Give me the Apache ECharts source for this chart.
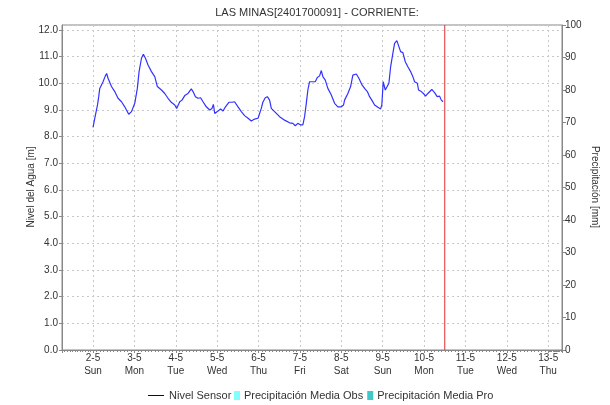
<!DOCTYPE html>
<html>
<head>
<meta charset="utf-8">
<script src="https://cdn.jsdelivr.net/npm/echarts@6/dist/echarts.min.js"></script>
<style>html,body{margin:0;padding:0;background:#fff}#c{width:610px;height:405px}</style>
</head>
<body>
<div id="c"></div>
<script>
// Hours since 2021-05-02 00:00 and water level [m]
const hours = [0,1.0,2.6,3.3,3.9,4.9,5.8,7.2,7.9,8.7,9.7,10.7,12.6,14.5,16.5,18.4,20.7,22.3,24.2,25.7,26.7,28.1,29.2,30.4,31.9,33.9,35.8,37.3,39.7,41.6,43.5,45.4,47.4,48.5,50.3,51.6,53.2,55.1,57.0,58.0,59.4,60.9,62.4,63.8,65.7,67.7,69.0,69.8,70.6,72.1,74.0,75.4,76.8,77.9,78.8,80.6,82.1,84.1,86.0,87.9,89.9,91.8,93.7,95.7,96.6,97.6,98.5,99.9,101.1,102.4,103.4,105.3,108.2,111.1,114.0,115.9,117.3,118.8,120.4,121.7,122.7,123.7,124.6,125.6,127.5,128.9,130.1,131.4,132.4,133.3,134.7,136.2,138.2,140.1,142.0,144.0,145.3,145.9,147.8,149.4,150.7,152.7,154.2,156.0,157.5,159.1,160.4,161.7,163.3,165.2,166.8,167.5,168.3,169.5,170.6,171.6,172.6,173.9,174.9,176.2,177.2,178.4,179.7,181.1,182.6,184.2,185.5,186.5,188.1,188.8,190.4,191.9,192.9,194.2,195.2,196.5,198.1,199.6,201.0,202.0,203.0];
const levels = [8.35,8.69,9.19,9.5,9.81,9.88,10.06,10.29,10.37,10.19,10.12,9.88,9.69,9.44,9.31,9.12,8.84,8.94,9.25,9.81,10.44,10.94,11.09,10.94,10.69,10.44,10.25,9.88,9.75,9.62,9.44,9.29,9.19,9.06,9.31,9.37,9.54,9.62,9.79,9.69,9.5,9.44,9.46,9.31,9.12,9.0,9.06,9.21,8.87,8.94,9.04,8.96,9.12,9.09,9.29,9.29,9.31,9.12,8.94,8.79,8.69,8.59,8.66,8.69,8.62,9.06,9.29,9.46,9.5,9.37,9.06,8.94,8.75,8.62,8.52,8.5,8.41,8.5,8.44,8.44,8.75,9.25,9.75,10.06,10.06,10.06,10.22,10.28,10.48,10.25,10.12,9.81,9.56,9.25,9.12,9.12,9.19,9.37,9.62,9.88,10.31,10.35,10.19,9.94,9.81,9.69,9.5,9.37,9.19,9.1,9.04,9.19,10.06,9.75,9.81,10.0,10.62,11.12,11.5,11.6,11.53,11.19,11.15,10.81,10.62,10.44,10.25,10.06,10.0,9.75,9.69,9.6,9.52,9.62,9.69,9.77,9.65,9.5,9.52,9.37,9.31];
const precipObs = [];
const precipPro = [];
const nowMarkerHour = 204; // hours since 2021-05-02 00:00
const dayNames = ['Sun','Mon','Tue','Wed','Thu','Fri','Sat'];
const titleText = 'LAS MINAS[2401700091] - CORRIENTE:';
const leftAxisName = 'Nivel del Agua [m]';
const rightAxisName = 'Precipitación [mm]';

const base = new Date(2021, 4, 2, 0, 0, 0).getTime();
const H = 3600000;
const Y_MAX = 12.1875;
const lineData = hours.map((h, i) => [base + h * H, levels[i]]);
const nowT = base + nowMarkerHour * H;

const FONT = 'Liberation Sans, Arial, sans-serif';
const RED = '#e03030';
const chart = echarts.init(document.getElementById('c'), null, {renderer: 'canvas'});
chart.setOption({
  animation: false,
  backgroundColor: '#fff',
  textStyle: {fontFamily: FONT},
  title: {
    text: titleText, left: 312, top: 2, textAlign: 'center',
    textStyle: {fontSize: 11, fontWeight: 'normal', color: '#333', fontFamily: FONT}
  },
  graphic: [{
    type: 'text', x: 31, y: 187, rotation: Math.PI / 2, silent: true,
    style: {text: leftAxisName, fill: '#333', font: '10px ' + FONT, align: 'center', verticalAlign: 'middle'}
  }, {
    type: 'text', x: 595, y: 187, rotation: -Math.PI / 2, silent: true,
    style: {text: rightAxisName, fill: '#333', font: '10px ' + FONT, align: 'center', verticalAlign: 'middle'}
  }],
  grid: {left: 62, right: 48, top: 25, bottom: 55, show: true, borderColor: '#888', borderWidth: 1},
  legend: [{
    data: [{name: 'Nivel Sensor', icon: 'rect'}],
    left: 143, top: 385, itemWidth: 16, itemHeight: 1, itemGap: 4,
    itemStyle: {color: '#000080'},
    textStyle: {fontSize: 11, color: '#333', fontFamily: FONT}
  }, {
    data: [{name: 'Precipitación Media Obs', icon: 'rect'}, {name: 'Precipitación Media Pro', icon: 'rect'}],
    left: 229, top: 385, itemWidth: 6, itemHeight: 9, itemGap: 4,
    textStyle: {fontSize: 11, color: '#333', fontFamily: FONT, padding: [0,0,0,-1]}
  }],
  xAxis: [{
    type: 'time',
    min: new Date(2021, 4, 1, 6, 0).getTime(),
    max: new Date(2021, 4, 13, 8, 0).getTime(),
    minInterval: 24 * H, maxInterval: 24 * H, splitNumber: 12,
    axisLine: {lineStyle: {color: '#888'}},
    axisTick: {show: true, length: 3, lineStyle: {color: '#888'}},
    minorTick: {show: true, splitNumber: 12, length: 2, lineStyle: {color: '#888'}},
    splitLine: {show: true, lineStyle: {color: '#c8c8c8', type: [2, 3]}},
    axisLabel: {
      fontSize: 10, color: '#333', lineHeight: 13, margin: 2, fontFamily: FONT,
      showMinLabel: false, showMaxLabel: false, interval: 0,
      formatter: function (v) {
        const d = new Date(v);
        return d.getDate() + '-' + (d.getMonth() + 1) + '\n' + dayNames[d.getDay()];
      }
    }
  }, {
    type: 'category', show: false, data: []
  }],
  yAxis: [{
    type: 'value', min: 0, max: Y_MAX, interval: 1,
    axisLine: {show: true, lineStyle: {color: '#888'}},
    axisTick: {show: true, length: 3, lineStyle: {color: '#888'}},
    splitLine: {show: true, lineStyle: {color: '#c8c8c8', type: [2, 3]}},
    axisLabel: {
      fontSize: 10, color: '#333', margin: 4, fontFamily: FONT, showMaxLabel: false,
      formatter: v => (Math.abs(v - Math.round(v)) < 1e-6 ? v.toFixed(1) : '')
    }
  }, {
    type: 'value', min: 0, max: 100, interval: 10,
    axisLine: {show: true, lineStyle: {color: '#888'}},
    axisTick: {show: true, length: 4, lineStyle: {color: '#888'}},
    splitLine: {show: false},
    axisLabel: {fontSize: 10, color: '#333', margin: 3, fontFamily: FONT}
  }],
  series: [{
    name: 'Nivel Sensor', type: 'line', data: lineData, showSymbol: false, symbol: 'none',
    lineStyle: {color: '#3232ff', width: 1.2}, itemStyle: {color: '#000080'}, z: 3
  }, {
    name: 'Ahora', type: 'line', data: [[nowT, 0], [nowT, Y_MAX]], showSymbol: false, symbol: 'none',
    lineStyle: {color: RED, width: 1}, itemStyle: {color: RED}, silent: true, z: 4
  }, {
    name: 'Precipitación Media Obs', type: 'bar', xAxisIndex: 1, yAxisIndex: 1, data: precipObs,
    itemStyle: {color: '#80ffff'}
  }, {
    name: 'Precipitación Media Pro', type: 'bar', xAxisIndex: 1, yAxisIndex: 1, data: precipPro,
    itemStyle: {color: '#40c8c8'}
  }]
});
</script>
</body>
</html>
